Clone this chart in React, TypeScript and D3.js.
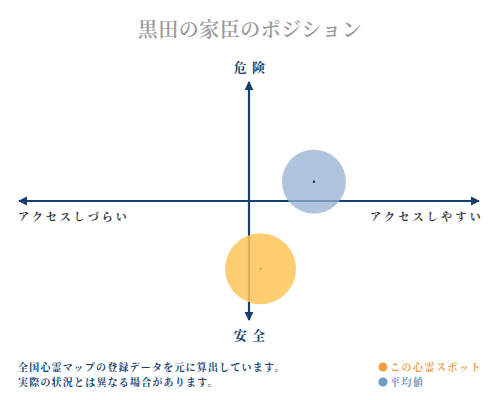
import React from "react";
import * as d3 from "d3";

const title = "黒田の家臣のポジション";
const axisTop = "危 険";
const axisBottom = "安 全";
const axisLeft = "アクセスしづらい";
const axisRight = "アクセスしやすい";
const seriesNames = ["この心霊スポット", "平均値"];
const seriesX = [5, 28];
const seriesY = [-56, 16];
const noteLines = [
  "全国心霊マップの登録データを元に算出しています。",
  "実際の状況とは異なる場合があります。",
];

const W = 500;
const H = 400;
const NAVY = "#163f6e";
const FONT = "'Noto Serif CJK JP','Noto Sans CJK JP',serif";

export default function App() {
  const x = d3.scaleLinear().domain([-100, 100]).range([17, 481]);
  const y = d3.scaleLinear().domain([-100, 100]).range([322, 80]);
  const cx0 = x(0);
  const cy0 = y(0);
  const fills = ["rgba(252,196,88,0.85)", "rgba(150,178,210,0.75)"];
  const dots = ["#f0a020", "#1a2a3a"];
  const radii = [35.5, 32];
  const legendDot = ["#f0a040", "#6f9cc4"];
  const legendText = ["#e89a40", "#6f94bc"];
  const order = [1, 0];
  return (
    <svg width={W} height={H} style={{ position: "absolute", left: 0, top: 0 }}>
      <defs>
        <marker id="arr" viewBox="0 0 10 10" refX="9" refY="5" markerWidth="4.2" markerHeight="4.2" orient="auto-start-reverse" markerUnits="strokeWidth">
          <path d="M0,0 L10,5 L0,10 Z" fill={NAVY} />
        </marker>
      </defs>
      <rect width={W} height={H} fill="#fff" />
      <text x={250} y={37} textAnchor="middle" fontFamily={FONT} fontSize={20} fill="#999" fontWeight={600} letterSpacing={0.5}>
        {title}
      </text>
      <text x={cx0 + 1} y={72} textAnchor="middle" fontFamily={FONT} fontSize={13} fontWeight={700} fill={NAVY} letterSpacing={1}>
        {axisTop}
      </text>
      <text x={cx0 + 1} y={340} textAnchor="middle" fontFamily={FONT} fontSize={13} fontWeight={700} fill={NAVY} letterSpacing={1}>
        {axisBottom}
      </text>
      <line x1={x(-100) + 2} x2={x(100) - 2} y1={cy0} y2={cy0} stroke={NAVY} strokeWidth={2.2} markerStart="url(#arr)" markerEnd="url(#arr)" />
      <line x1={cx0} x2={cx0} y1={y(100) + 2} y2={y(-100) - 2} stroke={NAVY} strokeWidth={2.2} markerStart="url(#arr)" markerEnd="url(#arr)" />
      <text x={18} y={221} fontFamily={FONT} fontSize={11} fontWeight={700} fill="#333" letterSpacing={3}>
        {axisLeft}
      </text>
      <text x={484} y={221} textAnchor="end" fontFamily={FONT} fontSize={11} fontWeight={700} fill="#333" letterSpacing={3.3}>
        {axisRight}
      </text>
      {order.map((i) => (
        <g key={i}>
          <circle cx={x(seriesX[i])} cy={y(seriesY[i])} r={radii[i]} fill={fills[i]} />
          <circle cx={x(seriesX[i])} cy={y(seriesY[i])} r={1.2} fill={dots[i]} />
        </g>
      ))}
      {noteLines.map((t, i) => (
        <text key={i} x={18} y={371 + i * 15} fontFamily={FONT} fontSize={10} fontWeight={700} fill={NAVY} letterSpacing={1.2}>
          {t}
        </text>
      ))}
      {seriesNames.map((t, i) => (
        <g key={i}>
          <circle cx={383} cy={367 + i * 15} r={4.5} fill={legendDot[i]} />
          <text x={390} y={371 + i * 15} fontFamily={FONT} fontSize={10} fontWeight={700} fill={legendText[i]} letterSpacing={1.5}>
            {t}
          </text>
        </g>
      ))}
    </svg>
  );
}
